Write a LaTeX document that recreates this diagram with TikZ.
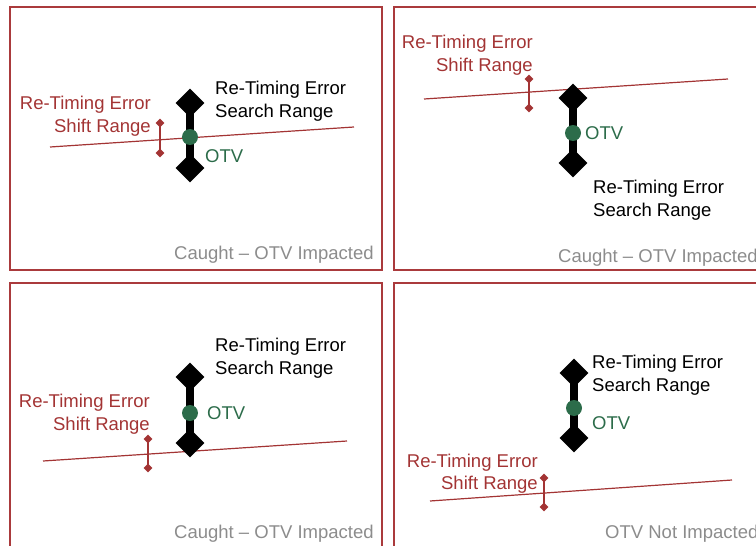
\documentclass[tikz,border=0pt]{standalone}
\usepackage{fontspec}
\setmainfont{Liberation Sans}
\usetikzlibrary{shapes.geometric}

\definecolor{framered}{RGB}{170,58,60}
\definecolor{shiftred}{RGB}{163,52,52}
\definecolor{otvgreen}{RGB}{44,108,74}
\definecolor{capgray}{RGB}{140,140,140}

\tikzset{
  panel/.style={draw=framered, line width=2pt},
  bigdia/.style={diamond, aspect=1, fill=black, inner sep=0pt, minimum size=29pt},
  smalldia/.style={diamond, aspect=1, fill=shiftred, inner sep=0pt, minimum size=9pt},
  searchbar/.style={draw=black, line width=8pt},
  otvdot/.style={circle, fill=otvgreen, inner sep=0pt, minimum size=16pt},
  shiftline/.style={draw=shiftred, line width=1.2pt},
  errbar/.style={draw=shiftred, line width=1.4pt},
  lbl/.style={inner sep=0pt, font=\fontsize{18.5}{22.5}\selectfont},
  shiftlbl/.style={lbl, text=shiftred, align=right, anchor=base east},
  searchlbl/.style={lbl, text=black, align=left, anchor=base west},
  otvlbl/.style={lbl, text=otvgreen, anchor=base west},
  caplbl/.style={lbl, text=capgray, anchor=base west},
}

\begin{document}
\begin{tikzpicture}[x=1pt, y=-1pt]
\useasboundingbox (0,0) rectangle (756,546);
\clip (0,0) rectangle (756,546);

% ---------- top left ----------
\draw[panel] (10,7) rectangle (382,270);
\coordinate (p1a) at (50,147);
\coordinate (p1b) at (354,127);
\draw[shiftline] (p1a) -- (p1b);
\node[bigdia] (p1top) at (190,103) {};
\node[bigdia] (p1bot) at (190,168) {};
\draw[searchbar] (p1top.center) -- (p1bot.center);
\node[otvdot] (p1otv) at (190,137) {};
\node[smalldia] (p1eu) at (160,123) {};
\node[smalldia] (p1ed) at (160,153) {};
\draw[errbar] (p1eu.center) -- (p1ed.center);
\node[shiftlbl] (p1shift) at (151,132) {Re-Timing Error\\Shift Range};
\node[searchlbl] (p1search) at (215,117) {Re-Timing Error\\Search Range};
\node[otvlbl] (p1otvl) at (205,162.5) {OTV};
\node[caplbl] (p1cap) at (174,259.5) {Caught – OTV Impacted};

% ---------- top right ----------
\draw[panel] (394,7) rectangle (770,270);
\coordinate (p2a) at (424,99);
\coordinate (p2b) at (728,79);
\draw[shiftline] (p2a) -- (p2b);
\node[bigdia] (p2top) at (573,98) {};
\node[bigdia] (p2bot) at (573,163) {};
\draw[searchbar] (p2top.center) -- (p2bot.center);
\node[otvdot] (p2otv) at (573,133) {};
\node[smalldia] (p2eu) at (529,79) {};
\node[smalldia] (p2ed) at (529,108) {};
\draw[errbar] (p2eu.center) -- (p2ed.center);
\node[shiftlbl] (p2shift) at (533,71) {Re-Timing Error\\Shift Range};
\node[searchlbl] (p2search) at (593,216) {Re-Timing Error\\Search Range};
\node[otvlbl] (p2otvl) at (585,139.5) {OTV};
\node[caplbl] (p2cap) at (558,262.5) {Caught – OTV Impacted};

% ---------- bottom left ----------
\draw[panel] (10,283) rectangle (382,560);
\coordinate (p3a) at (43,461);
\coordinate (p3b) at (347,441);
\draw[shiftline] (p3a) -- (p3b);
\node[bigdia] (p3top) at (190,377) {};
\node[bigdia] (p3bot) at (190,443) {};
\draw[searchbar] (p3top.center) -- (p3bot.center);
\node[otvdot] (p3otv) at (190,413) {};
\node[smalldia] (p3eu) at (148,439) {};
\node[smalldia] (p3ed) at (148,468) {};
\draw[errbar] (p3eu.center) -- (p3ed.center);
\node[shiftlbl] (p3shift) at (150,430) {Re-Timing Error\\Shift Range};
\node[searchlbl] (p3search) at (215,374) {Re-Timing Error\\Search Range};
\node[otvlbl] (p3otvl) at (207,419.5) {OTV};
\node[caplbl] (p3cap) at (174,538.5) {Caught – OTV Impacted};

% ---------- bottom right ----------
\draw[panel] (394,283) rectangle (770,560);
\coordinate (p4a) at (430,501);
\coordinate (p4b) at (732,480);
\draw[shiftline] (p4a) -- (p4b);
\node[bigdia] (p4top) at (574,373) {};
\node[bigdia] (p4bot) at (574,438) {};
\draw[searchbar] (p4top.center) -- (p4bot.center);
\node[otvdot] (p4otv) at (574,408) {};
\node[smalldia] (p4eu) at (544,478) {};
\node[smalldia] (p4ed) at (544,507) {};
\draw[errbar] (p4eu.center) -- (p4ed.center);
\node[shiftlbl] (p4shift) at (538,489.5) {Re-Timing Error\\Shift Range};
\node[searchlbl] (p4search) at (592,391) {Re-Timing Error\\Search Range};
\node[otvlbl] (p4otvl) at (592,429.5) {OTV};
\node[caplbl] (p4cap) at (605,538.5) {OTV Not Impacted};
\end{tikzpicture}
\end{document}
